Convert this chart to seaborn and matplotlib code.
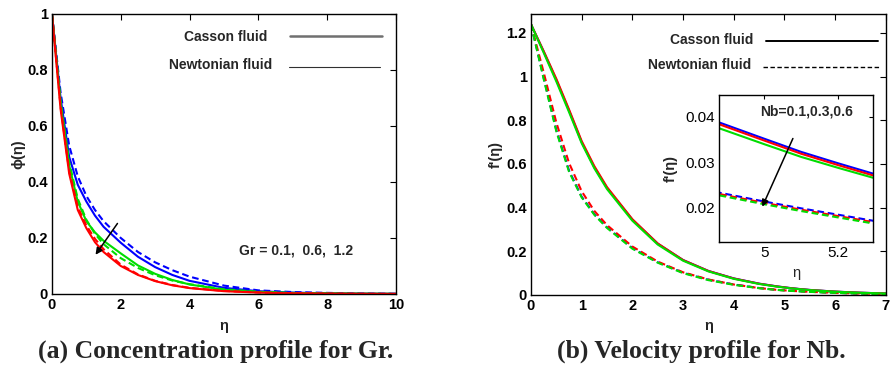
import numpy as np
import pandas as pd
import matplotlib
matplotlib.use("Agg")
import matplotlib.pyplot as plt
from matplotlib.lines import Line2D
import seaborn as sns

# ---------------- (a) concentration profile phi(eta) for Gr ----------------
eta_a = [0, 0.25, 0.5, 0.75, 1, 1.25, 1.5, 2, 2.5, 3, 3.5, 4, 5, 6, 7, 8, 9, 10]
gr_levels = ["0.1", "0.6", "1.2"]
phi_casson_gr01 = [1, 0.70, 0.49, 0.39, 0.33, 0.28, 0.24, 0.183, 0.133, 0.096, 0.068, 0.047, 0.022, 0.010, 0.005, 0.0025, 0.0012, 0.0006]
phi_casson_gr06 = [1, 0.68, 0.46, 0.33, 0.26, 0.22, 0.19, 0.145, 0.102, 0.072, 0.050, 0.034, 0.015, 0.007, 0.003, 0.0015, 0.0007, 0.0003]
phi_casson_gr12 = [1, 0.66, 0.43, 0.30, 0.235, 0.185, 0.15, 0.100, 0.068, 0.046, 0.031, 0.021, 0.010, 0.005, 0.0024, 0.0012, 0.0006, 0.0003]
phi_newton_gr01 = [1, 0.72, 0.53, 0.42, 0.35, 0.30, 0.26, 0.200, 0.150, 0.113, 0.085, 0.062, 0.030, 0.013, 0.007, 0.004, 0.002, 0.001]
phi_newton_gr06 = [1, 0.69, 0.47, 0.34, 0.265, 0.215, 0.178, 0.128, 0.093, 0.067, 0.048, 0.035, 0.017, 0.008, 0.004, 0.002, 0.001, 0.0005]
phi_newton_gr12 = [1, 0.67, 0.44, 0.31, 0.245, 0.197, 0.16, 0.105, 0.070, 0.047, 0.032, 0.022, 0.011, 0.0055, 0.0027, 0.0013, 0.0007, 0.0003]

# ---------------- (b) velocity profile f'(eta) for Nb ----------------
eta_b = [0, 0.25, 0.5, 0.75, 1, 1.25, 1.5, 2, 2.5, 3, 3.5, 4, 4.5, 4.85, 5.0, 5.1, 5.2, 5.3, 5.5, 6, 6.5, 7]
nb_levels = ["0.1", "0.3", "0.6"]
fp_casson_nb01 = [1.24, 1.115, 0.985, 0.845, 0.700, 0.585, 0.490, 0.345, 0.235, 0.160, 0.110, 0.0760, 0.0520, 0.0396, 0.0352, 0.0323, 0.0298, 0.0274, 0.0232, 0.0155, 0.0104, 0.0070]
fp_casson_nb03 = [1.24, 1.117, 0.990, 0.850, 0.705, 0.590, 0.494, 0.347, 0.236, 0.160, 0.110, 0.0755, 0.0515, 0.0392, 0.0348, 0.0319, 0.0294, 0.0270, 0.0229, 0.0153, 0.0103, 0.0069]
fp_casson_nb06 = [1.24, 1.110, 0.978, 0.838, 0.695, 0.580, 0.485, 0.340, 0.231, 0.157, 0.108, 0.0740, 0.0505, 0.0383, 0.0340, 0.0312, 0.0288, 0.0265, 0.0224, 0.0150, 0.0101, 0.0068]
fp_newton_nb01 = [1.24, 0.995, 0.755, 0.570, 0.450, 0.370, 0.310, 0.215, 0.150, 0.102, 0.070, 0.0480, 0.0320, 0.0238, 0.0214, 0.0199, 0.0185, 0.0171, 0.0148, 0.0100, 0.0068, 0.0046]
fp_newton_nb03 = [1.24, 1.020, 0.790, 0.605, 0.475, 0.385, 0.320, 0.222, 0.153, 0.104, 0.071, 0.0480, 0.0318, 0.0235, 0.0211, 0.0196, 0.0182, 0.0168, 0.0145, 0.0098, 0.0066, 0.0045]
fp_newton_nb06 = [1.24, 0.990, 0.750, 0.565, 0.447, 0.367, 0.307, 0.212, 0.148, 0.100, 0.068, 0.0465, 0.0310, 0.0232, 0.0208, 0.0193, 0.0179, 0.0165, 0.0142, 0.0096, 0.0065, 0.0044]

ticks_a_x = [0, 2, 4, 6, 8, 10]
ticks_a_y = [0, 0.2, 0.4, 0.6, 0.8, 1]
labels_a_y = ["0", "0.2", "0.4", "0.6", "0.8", "1"]
ticks_b_x = [0, 1, 2, 3, 4, 5, 6, 7]
ticks_b_y = [0, 0.2, 0.4, 0.6, 0.8, 1.0, 1.2]
labels_b_y = ["0", "0.2", "0.4", "0.6", "0.8", "1", "1.2"]
ticks_in_x = [5, 5.2]
ticks_in_y = [0.02, 0.03, 0.04]
labels_in_y = ["0.02", "0.03", "0.04"]


def long_frame(eta, curves, param):
    rows = []
    for (level, fluid), vals in curves.items():
        for e, v in zip(eta, vals):
            rows.append({"eta": e, "val": v, param: level, "fluid": fluid})
    return pd.DataFrame(rows)


df_a = long_frame(eta_a, {
    ("0.1", "Casson"): phi_casson_gr01, ("0.6", "Casson"): phi_casson_gr06, ("1.2", "Casson"): phi_casson_gr12,
    ("0.1", "Newtonian"): phi_newton_gr01, ("0.6", "Newtonian"): phi_newton_gr06, ("1.2", "Newtonian"): phi_newton_gr12,
}, "Gr")
df_b = long_frame(eta_b, {
    ("0.1", "Casson"): fp_casson_nb01, ("0.3", "Casson"): fp_casson_nb03, ("0.6", "Casson"): fp_casson_nb06,
    ("0.1", "Newtonian"): fp_newton_nb01, ("0.3", "Newtonian"): fp_newton_nb03, ("0.6", "Newtonian"): fp_newton_nb06,
}, "Nb")

sns.set_theme(style="white")
plt.rcParams["font.family"] = ["Liberation Sans", "DejaVu Sans"]
plt.rcParams["mathtext.default"] = "regular"

BLUE, GREEN, RED = "#0000ff", "#00dd00", "#ff0000"
dash_map = {"Casson": "", "Newtonian": (3.2, 1.8)}
TICK_FONT = dict(fontsize=10.5, fontweight="bold")
LABEL_FONT = dict(fontsize=10.5, fontweight="bold")
NOTE_FONT = dict(fontsize=10, fontweight="bold")

fig = plt.figure(figsize=(8.93, 3.68), dpi=100)
axA = fig.add_axes([0.0582, 0.2011, 0.3852, 0.761])
axB = fig.add_axes([0.5946, 0.1984, 0.3974, 0.7636])
axI = fig.add_axes([0.8052, 0.3424, 0.1725, 0.3995])


def style_axes(ax, lw=1.0, tlen=4):
    for s in ax.spines.values():
        s.set_visible(True)
        s.set_color("black")
        s.set_linewidth(lw)
    ax.tick_params(direction="in", top=True, right=True, length=tlen, width=0.8,
                   colors="black", pad=3)
    ax.grid(False)
    ax.set_facecolor("white")


# ---- panel (a)
sns.lineplot(data=df_a, x="eta", y="val", hue="Gr", style="fluid",
             hue_order=gr_levels, style_order=["Casson", "Newtonian"],
             palette=[BLUE, GREEN, RED], dashes=dash_map, estimator=None,
             sort=False, legend=False, linewidth=1.5, ax=axA)
axA.set_xlim(0, 10)
axA.set_ylim(0, 1)
style_axes(axA)
axA.set_xticks(ticks_a_x)
axA.set_xticklabels([str(t) for t in ticks_a_x], **TICK_FONT)
axA.set_yticks(ticks_a_y)
axA.set_yticklabels(labels_a_y, **TICK_FONT)
axA.set_xlabel("η", **LABEL_FONT)
axA.set_ylabel("ϕ(η)", **LABEL_FONT)
axA.xaxis.set_label_coords(0.5, -0.089)
axA.yaxis.set_label_coords(-0.076, 0.5)

axA.text(0.625, 0.918, "Casson fluid", transform=axA.transAxes, ha="right", va="center", **NOTE_FONT)
axA.text(0.640, 0.818, "Newtonian fluid", transform=axA.transAxes, ha="right", va="center", **NOTE_FONT)
axA.add_line(Line2D([0.692, 0.959], [0.921, 0.921], transform=axA.transAxes, color="#707070", lw=1.8))
axA.add_line(Line2D([0.689, 0.953], [0.811, 0.811], transform=axA.transAxes, color="#303030", lw=0.8))
axA.text(0.544, 0.157, "Gr = 0.1,  0.6,  1.2", transform=axA.transAxes, ha="left", va="center", **NOTE_FONT)
axA.annotate("", xy=(1.22, 0.132), xytext=(1.95, 0.26),
             arrowprops=dict(arrowstyle="-|>", color="black", lw=1.1, mutation_scale=10))

# ---- panel (b)
sns.lineplot(data=df_b, x="eta", y="val", hue="Nb", style="fluid",
             hue_order=nb_levels, style_order=["Casson", "Newtonian"],
             palette=[BLUE, RED, GREEN], dashes=dash_map, estimator=None,
             sort=False, legend=False, linewidth=1.5, ax=axB)
axB.set_xlim(0, 7)
axB.set_ylim(0, 1.287)
style_axes(axB)
axB.set_xticks(ticks_b_x)
axB.set_xticklabels([str(t) for t in ticks_b_x], **TICK_FONT)
axB.set_yticks(ticks_b_y)
axB.set_yticklabels(labels_b_y, **TICK_FONT)
axB.set_xlabel("η", **LABEL_FONT)
axB.set_ylabel("f'(η)", **LABEL_FONT)
axB.xaxis.set_label_coords(0.5, -0.085)
axB.yaxis.set_label_coords(-0.08, 0.5)

axB.text(0.626, 0.907, "Casson fluid", transform=axB.transAxes, ha="right", va="center", **NOTE_FONT)
axB.text(0.620, 0.819, "Newtonian fluid", transform=axB.transAxes, ha="right", va="center", **NOTE_FONT)
axB.add_line(Line2D([0.662, 0.978], [0.904, 0.904], transform=axB.transAxes, color="black", lw=1.4))
axB.add_line(Line2D([0.653, 0.985], [0.811, 0.811], transform=axB.transAxes, color="black", lw=1.0,
                    dashes=(3.2, 1.8)))

# ---- inset of panel (b)
sns.lineplot(data=df_b, x="eta", y="val", hue="Nb", style="fluid",
             hue_order=nb_levels, style_order=["Casson", "Newtonian"],
             palette=[BLUE, RED, GREEN], dashes=dash_map, estimator=None,
             sort=False, legend=False, linewidth=1.5, ax=axI)
axI.set_xlim(4.878, 5.295)
axI.set_ylim(0.0125, 0.0448)
style_axes(axI, lw=1.0, tlen=3)
axI.set_xticks(ticks_in_x)
axI.set_xticklabels(["5", "5.2"], fontsize=11)
axI.set_yticks(ticks_in_y)
axI.set_yticklabels(labels_in_y, fontsize=11)
axI.set_xlabel("η", fontsize=10.5)
axI.set_ylabel("f'(η)", **LABEL_FONT)
axI.xaxis.set_label_coords(0.5, -0.163)
axI.yaxis.set_label_coords(-0.266, 0.5)
axI.text(4.989, 0.0411, "Nb=0.1,0.3,0.6", ha="left", va="center", **NOTE_FONT)
axI.annotate("", xy=(4.992, 0.0197), xytext=(5.081, 0.0358),
             arrowprops=dict(arrowstyle="-|>", color="black", lw=1.1, mutation_scale=10))

# ---- captions
cap_font = dict(family=["Liberation Serif", "DejaVu Serif"], fontweight="bold", fontsize=18.5,
                ha="center", va="center")
fig.text(0.242, 0.046, "(a) Concentration profile for Gr.", **cap_font)
fig.text(0.785, 0.046, "(b) Velocity profile for Nb.", **cap_font)

fig.savefig("out.png", dpi=100, facecolor="white")
